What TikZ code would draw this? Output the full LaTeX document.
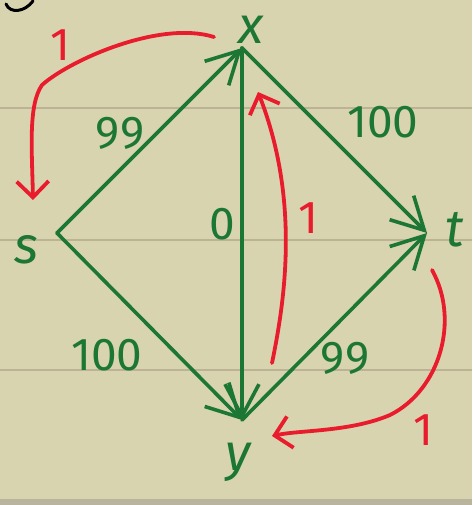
\documentclass[tikz,border=0pt]{standalone}
\usepackage{fontspec}
\setsansfont{Fira Sans}
\usetikzlibrary{arrows.meta}
\definecolor{paper}{RGB}{217,212,176}
\definecolor{rule}{RGB}{188,178,148}
\definecolor{ink}{RGB}{28,118,52}
\definecolor{redink}{RGB}{232,28,44}
\definecolor{band}{RGB}{184,180,158}
\begin{document}
\begin{tikzpicture}[x=1pt,y=-1pt,
  edge/.style={draw=ink,line width=3.6pt,line cap=round,line join=round,
    -{Straight Barb[length=32pt,width=34pt,line width=3.6pt]}},
  redarrow/.style={draw=redink,line width=3.8pt,line cap=round,line join=round,
    -{Straight Barb[length=16pt,width=32pt,line width=3.8pt]}},
  wlabel/.style={text=ink,font=\sffamily\fontsize{46}{46}\selectfont,inner sep=0pt},
  rlabel/.style={text=redink,font=\sffamily\fontsize{46}{46}\selectfont,inner sep=0pt},
  vlabel/.style={text=ink,font=\sffamily\itshape\fontsize{52}{52}\selectfont,inner sep=0pt}]
\useasboundingbox (0,0) rectangle (472,505);
\fill[paper] (0,0) rectangle (472,505);
\fill[band] (0,499) rectangle (472,505);
\foreach \yy in {108,240,370} \draw[rule,line width=1.6pt] (0,\yy) -- (472,\yy);
% fragment of a letter at top left
\draw[black,line width=3pt,line cap=round] (6,4) .. controls (10,14) and (25,12) .. (33,1);
% vertices
\coordinate (x) at (242,48);
\coordinate (s) at (57,233);
\coordinate (t) at (427,233);
\coordinate (y) at (242,420);
% green edges
\draw[edge] (s) -- (x);
\draw[edge] (s) -- (y);
\draw[edge] (x) -- (t);
\draw[edge] (y) -- (t);
\draw[edge] (x) -- (y);
% vertex labels
\node[vlabel] (xl) at (251,30) {x};
\node[vlabel] (sl) at (26,250) {s};
\node[vlabel] (tl) at (455,230) {t};
\node[vlabel] (yl) at (238,462) {y};
% weights
\node[wlabel] (w1) at (120,133) {99};
\node[wlabel] (w2) at (383,122) {100};
\node[wlabel] (w3) at (222,224) {0};
\node[wlabel] (w4) at (107,355) {100};
\node[wlabel] (w5) at (345,358) {99};
% red paths
\coordinate (r1s) at (214,37);
\coordinate (r1e) at (33,200);
\draw[redarrow] (r1s) .. controls (160,20) and (70,60) .. (42,85)
  .. controls (28,105) and (32,150) .. (r1e);
\coordinate (r2s) at (272,363);
\coordinate (r2e) at (258,92);
\draw[redarrow] (r2s) .. controls (285,300) and (300,200) .. (r2e);
\coordinate (r3s) at (432,270);
\coordinate (r3e) at (272,436);
\draw[redarrow] (r3s) .. controls (460,320) and (440,390) .. (390,415)
  .. controls (350,432) and (300,430) .. (r3e);
\node[rlabel] (rl1) at (60,45) {1};
\node[rlabel] (rl2) at (308,218) {1};
\node[rlabel] (rl3) at (423,430) {1};
\end{tikzpicture}
\end{document}
